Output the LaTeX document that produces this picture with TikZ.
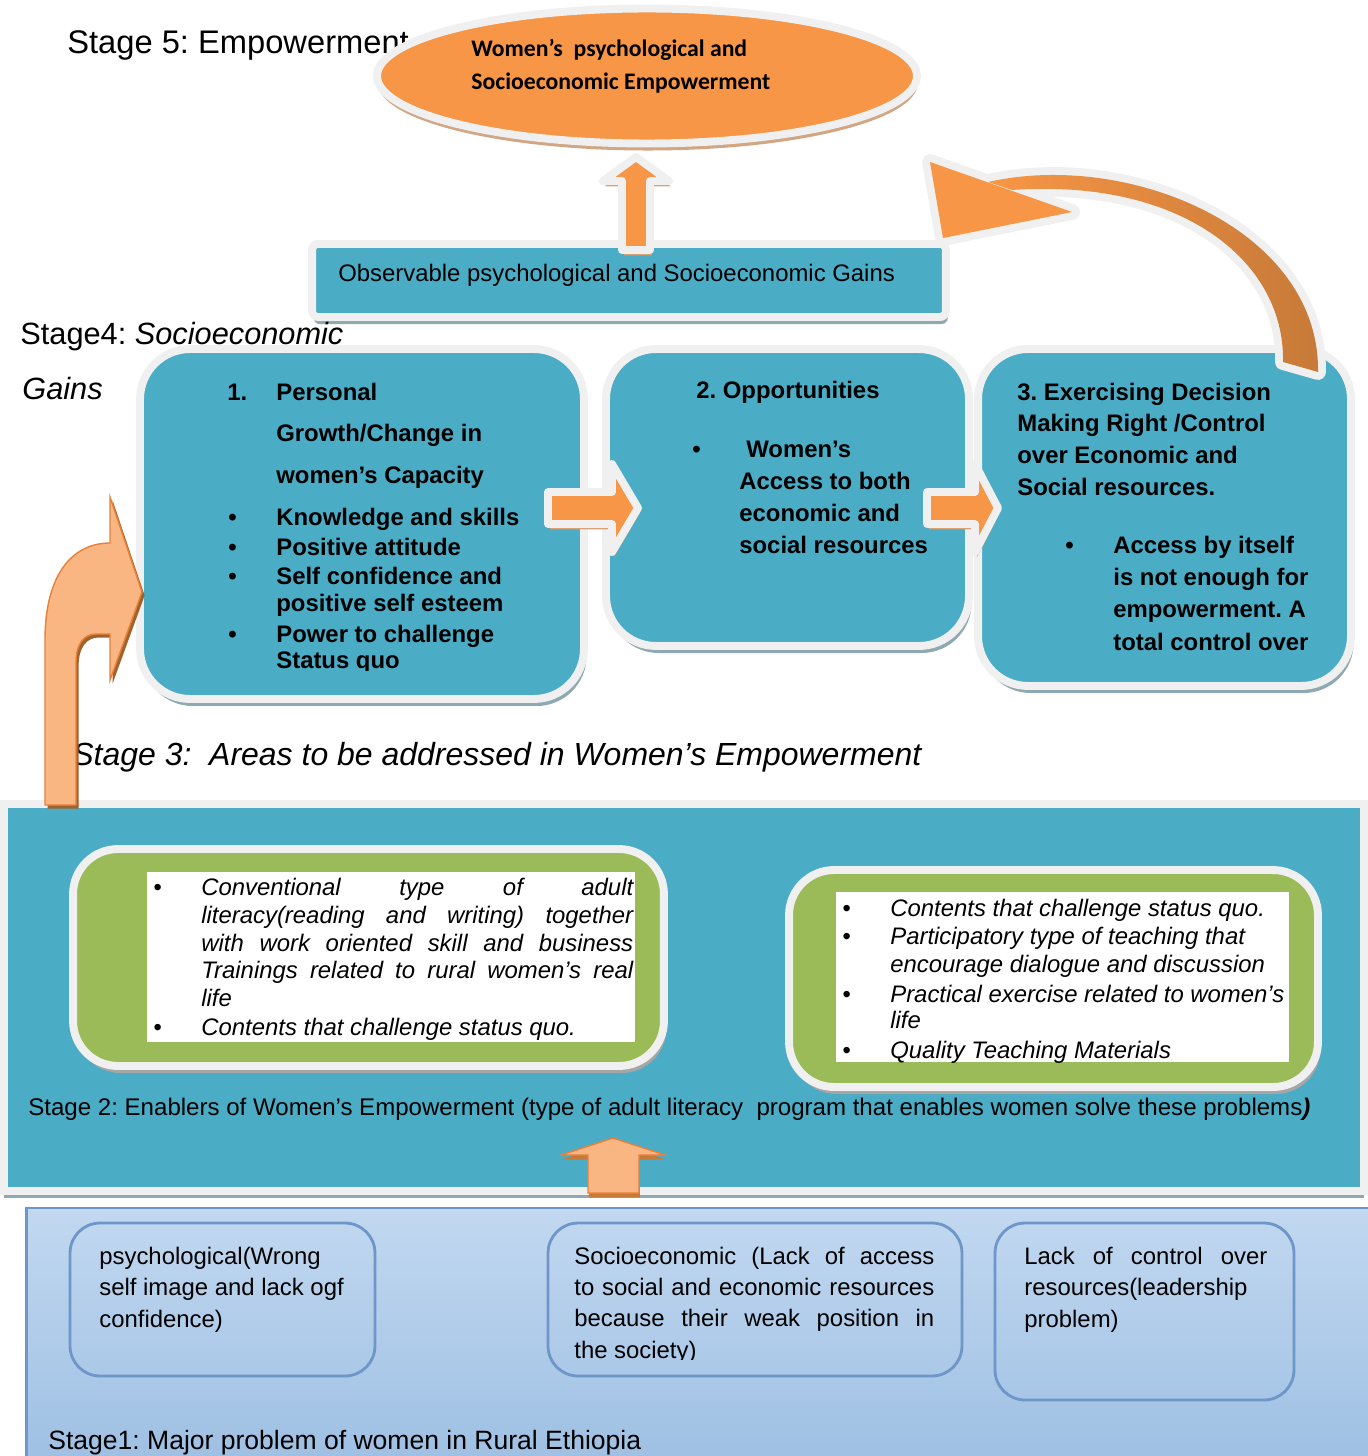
\documentclass[tikz,border=0pt]{standalone}
\usepackage{fontspec}
\setmainfont{Liberation Sans}
\newfontfamily\calibri{Carlito}
\usetikzlibrary{shapes.geometric,shadows}

\definecolor{tealc}{HTML}{4BACC6}
\definecolor{orangec}{HTML}{F79646}
\definecolor{orangelt}{HTML}{FAB682}
\definecolor{orangedk}{HTML}{E8803A}
\definecolor{brownc}{HTML}{C77A38}
\definecolor{greenc}{HTML}{9BBB59}
\definecolor{glowc}{HTML}{F0F0F0}
\definecolor{shadowc}{HTML}{8EA9B0}
\definecolor{tanc}{HTML}{D2A583}
\definecolor{bluetop}{HTML}{C2D8F0}
\definecolor{bluebot}{HTML}{9DBFE3}
\definecolor{blueline}{HTML}{6F96C8}

\frenchspacing
\newcommand\bodyfont{\fontsize{13.6pt}{15.5pt}\selectfont}
\newcommand\stagefont{\fontsize{18pt}{22pt}\selectfont}
\newcommand\blt[1][0.96cm]{\llap{\makebox[#1][l]{\textbullet}}}
\newcommand\numlbl[2][0.98cm]{\llap{\makebox[#1][l]{#2}}}
\newcommand\jline[2]{\makebox[#1][s]{#2}}

\begin{document}
\begin{tikzpicture}[x=0.02cm, y=-0.02cm,
  glowbox/.style={rectangle, draw=glowc, line width=4.5pt, inner sep=0pt},
  tealbox/.style={glowbox, fill=tealc, rounded corners=1cm,
    drop shadow={shadow xshift=1.5pt, shadow yshift=-4pt, fill=shadowc, opacity=1}},
  greenbox/.style={glowbox, fill=greenc, rounded corners=0.9cm,
    drop shadow={shadow xshift=1.5pt, shadow yshift=-4pt, fill=black!35, opacity=1}},
  probbox/.style={rectangle, draw=blueline, line width=1.6pt, rounded corners=0.6cm, inner sep=0pt},
  txt/.style={anchor=base west, align=left, inner sep=0pt, font=\bodyfont},
  stagetxt/.style={anchor=base west, inner sep=0pt, font=\stagefont},
  blockarrow/.style={fill=orangec, draw=glowc, line width=4.5pt, line join=round,
    drop shadow={shadow xshift=1pt, shadow yshift=-3pt, fill=brownc!70, opacity=1}}]
\useasboundingbox (0,0) rectangle (1368,1456);
\clip (0,0) rectangle (1368,1456);

% stage 5
\node[stagetxt, font=\fontsize{18.6pt}{22pt}\selectfont] (s5) at (67,54) {Stage 5: Empowerment};
\node[ellipse, draw=glowc, line width=4.5pt, fill=orangec, inner sep=0pt,
  minimum width=10.8cm, minimum height=2.7cm,
  drop shadow={shadow xshift=0.5pt, shadow yshift=-4pt, fill=tanc, opacity=1}] (empower) at (647,76) {};
\node[txt, font=\calibri\bfseries\fontsize{13.5pt}{19.3pt}\selectfont] (emptxt) at (471,90)
  {Women’s\ \ psychological and\\ Socioeconomic Empowerment};

\node[glowbox, fill=tealc, rounded corners=0.12cm, minimum width=12.68cm, minimum height=1.46cm,
  drop shadow={shadow xshift=1pt, shadow yshift=-4pt, fill=shadowc, opacity=1}] (gains) at (629,280.5) {};
\node[txt] (gainstxt) at (338,282) {Observable psychological and Socioeconomic Gains};
\path[blockarrow] (622,250) -- (622,181) -- (603,181) -- (636,157) -- (669,181) -- (650,181) -- (650,250) -- cycle;

% stage 4
\node[stagetxt, font=\fontsize{17.5pt}{22pt}\selectfont] (s4) at (20,344) {Stage4: \textit{Socioeconomic}};
\node[stagetxt, font=\fontsize{17.5pt}{22pt}\selectfont\itshape] (s4b) at (22,399) {Gains};

\node[tealbox, minimum width=8.88cm, minimum height=7cm] (personal) at (362,524) {};
\node[tealbox, minimum width=7.26cm, minimum height=5.94cm] (opport) at (787.5,497.5) {};
\node[tealbox, minimum width=7.46cm, minimum height=6.74cm] (control) at (1164.5,517.5) {};

\node[txt, font=\fontsize{13.6pt}{23.6pt}\selectfont\bfseries] (personalhead) at (276,483)
  {\numlbl{1.}Personal\\ Growth/Change in\\ women’s Capacity};
\begin{scope}
  \clip (140,349) rectangle (584,670);
  \node[txt, font=\fontsize{13.6pt}{15.6pt}\selectfont\bfseries] (personallist) at (276,668)
    {\blt Knowledge and skills\\[1.5pt]
     \blt Positive attitude\\[0.9pt]
     \blt Self confidence and\\
     positive self esteem\\[1.5pt]
     \blt Power to challenge\\[-0.8pt]
     Status quo};
\end{scope}

\node[txt, font=\bodyfont\bfseries] (opporthead) at (696,398) {2. Opportunities};
\node[txt, font=\fontsize{13.6pt}{18.2pt}\selectfont\bfseries] (opportlist) at (739,553)
  {\blt[0.94cm]\hspace{0.14cm}Women’s\\ Access to both\\ economic and\\ social resources};

\node[txt, font=\fontsize{13.6pt}{18pt}\selectfont\bfseries] (controlhead) at (1017,495)
  {3. Exercising Decision\\ Making Right /Control\\ over Economic and\\ Social resources.};
\node[txt, font=\fontsize{13.6pt}{18.4pt}\selectfont\bfseries] (controllist) at (1113,650)
  {\blt Access by itself\\ is not enough for\\ empowerment. A\\ total control over};

\path[blockarrow] (548,492) -- (612,492) -- (612,464) -- (638,508) -- (612,552) -- (612,524) -- (548,524) -- cycle;
\path[blockarrow] (927,492) -- (975,492) -- (975,464) -- (998,508) -- (975,552) -- (975,524) -- (927,524) -- cycle;

% curved arrow back to the gains
\draw[glowc, line width=9pt, line join=round]
  (988,182) .. controls (1130,150) and (1320,230) .. (1318,372) -- (1283,362)
  .. controls (1285,260) and (1180,178) .. (1012,190) -- cycle
  (930,162) -- (1072,212) -- (943,238) -- cycle;
\shade[left color=orangec, right color=brownc]
  (988,182) .. controls (1130,150) and (1320,230) .. (1318,372) -- (1283,362)
  .. controls (1285,260) and (1180,178) .. (1012,190) -- cycle;
\fill[orangec] (930,162) -- (1072,212) -- (943,238) -- cycle;

% stage 3
\node[stagetxt, font=\fontsize{18.2pt}{22pt}\selectfont\itshape] (s3) at (72,765) {Stage 3:\ \ Areas to be addressed in Women’s Empowerment};

% stage 2
\node[glowbox, fill=tealc, minimum width=27.2cm, minimum height=7.74cm,
  drop shadow={shadow xshift=0pt, shadow yshift=-4pt, fill=shadowc, opacity=1}] (enablers) at (684,997.5) {};
\node[greenbox, minimum width=11.82cm, minimum height=4.34cm] (greenl) at (368.5,957.5) {};
\node[greenbox, minimum width=10.58cm, minimum height=4.34cm] (greenr) at (1053.5,978.5) {};
\node[rectangle, fill=white, inner sep=0pt, minimum width=9.76cm, minimum height=3.4cm] (whitel) at (391,957) {};
\node[rectangle, fill=white, inner sep=0pt, minimum width=9.06cm, minimum height=3.4cm] (whiter) at (1062.5,977) {};

\node[txt, font=\fontsize{13.6pt}{15.8pt}\selectfont\itshape] (literacytxt) at (201,1035)
  {\blt\jline{8.64cm}{Conventional type of adult}\\
   \jline{8.64cm}{literacy(reading and writing) together}\\
   \jline{8.64cm}{with work oriented skill and business}\\
   \jline{8.64cm}{Trainings related to rural women’s real}\\
   life\\[0.4pt]
   \blt Contents that challenge status quo.};
\begin{scope}
  \clip (836,892) rectangle (1289,1062);
  \node[txt, font=\fontsize{13.6pt}{15.9pt}\selectfont\itshape] (teachtxt) at (890,1058)
    {\blt Contents that challenge status quo.\\
     \blt Participatory type of teaching that\\
     encourage dialogue and discussion\\[1.2pt]
     \blt Practical exercise related to women’s\\[-1.2pt]
     life\\[1pt]
     \blt Quality Teaching Materials};
\end{scope}
\node[txt, font=\fontsize{13.7pt}{15.5pt}\selectfont] (s2) at (28,1115)
  {Stage 2: Enablers of Women’s Empowerment (type of adult literacy\ \ program that enables women solve these problems\textbf{\textit{)}}};

\shadedraw[top color=orangelt, middle color=orangec, bottom color=orangelt, draw=orangedk, line width=0.8pt,
  drop shadow={shadow xshift=0.5pt, shadow yshift=-2.5pt, fill=brownc, opacity=1}]
  (588,1193) -- (588,1155) -- (561,1155) -- (613,1138) -- (665,1155) -- (639,1155) -- (639,1193) -- cycle;

% bent arrow up to stage 4
\shadedraw[top color=orangelt, middle color=orangec, bottom color=orangelt, draw=orangedk, line width=0.8pt,
  drop shadow={shadow xshift=1.5pt, shadow yshift=-2pt, fill=brownc!80!black, opacity=1}]
  (45,805) -- (45,640) .. controls (45,575) and (72,543) .. (110,543) -- (110,497) -- (142,592)
  -- (110,680) -- (110,634) -- (96,634) .. controls (84,634) and (76,644) .. (76,662) -- (76,805) -- cycle;

% stage 1
\node[rectangle, draw=blueline, line width=1.6pt, top color=bluetop, bottom color=bluebot, inner sep=0pt,
  minimum width=26.88cm, minimum height=5.24cm] (problems) at (698,1339) {};
\node[probbox, minimum width=6.1cm, minimum height=3.06cm] (psych) at (222.5,1299.5) {};
\node[probbox, minimum width=8.28cm, minimum height=3.06cm] (socio) at (755,1299.5) {};
\node[probbox, minimum width=5.98cm, minimum height=3.54cm] (lack) at (1144.5,1311.5) {};

\node[txt, font=\fontsize{13.6pt}{17.8pt}\selectfont] (psychtxt) at (99,1327)
  {psychological(Wrong\\ self image and lack ogf\\ confidence)};
\begin{scope}
  \clip (548,1223) rectangle (962,1359);
  \node[txt, font=\fontsize{13.6pt}{17.8pt}\selectfont] (sociotxt) at (574,1358)
    {\jline{7.2cm}{Socioeconomic (Lack of access}\\
     \jline{7.2cm}{to social and economic resources}\\
     \jline{7.2cm}{because their weak position in}\\
     the society)};
\end{scope}
\node[txt, font=\fontsize{13.6pt}{17.8pt}\selectfont] (lacktxt) at (1024,1327)
  {\jline{4.86cm}{Lack of control over}\\ resources(leadership\\ problem)};
\node[txt, font=\fontsize{15.1pt}{17pt}\selectfont] (s1) at (48,1449) {Stage1: Major problem of women in Rural Ethiopia};
\end{tikzpicture}
\end{document}
